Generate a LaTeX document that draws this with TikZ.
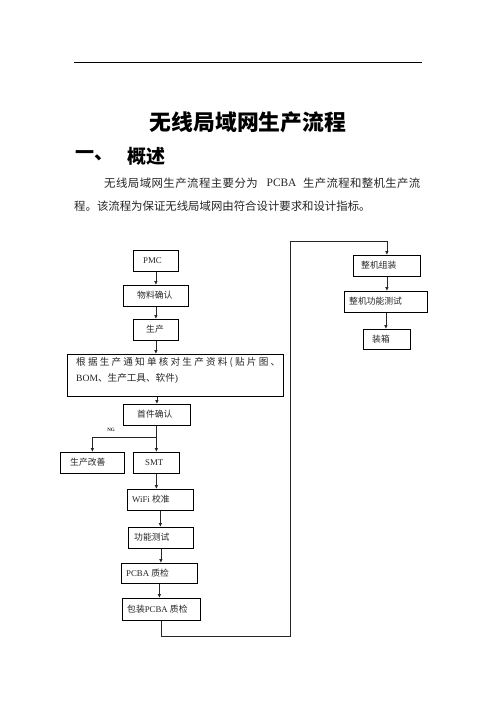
\documentclass[tikz,border=0pt]{standalone}
\usepackage{fontspec}
\setmainfont{Liberation Serif}
\newfontfamily\cjk{Noto Sans CJK SC}
\usetikzlibrary{arrows.meta}
\newcommand\zh[1]{{\cjk #1}}
\tikzset{
  box/.style={draw=black, line width=0.8pt, rectangle, inner sep=0pt},
  txt/.style={inner sep=0pt, font=\fontsize{8.8}{11}\selectfont, text=black!85},
  bigtxt/.style={inner sep=0pt, font=\fontsize{9.6}{11}\selectfont, text=black!85},
  arr/.style={draw=black!85, line width=0.8pt, -{Latex[length=4pt,width=3.6pt]}},
  para/.style={inner sep=0pt, font=\fontsize{11.4}{13}\selectfont, text=black!85}
}
\newcommand\bx[7]{%
  \node[box, anchor=north west, minimum width={(#4-#2)*1pt}, minimum height={(#5-#3)*1pt}] (#1) at (#2,#3) {};
  \node[txt, anchor=west] (#1-t) at (#6,{(#3+#5)/2}) {#7};}
\begin{document}
\begin{tikzpicture}[x=1pt,y=-1pt]
\useasboundingbox (0,0) rectangle (496,702);
\fill[white] (0,0) rectangle (496,702);
% header rule
\coordinate (r1) at (74,62);
\coordinate (r2) at (422,62);
\draw[line width=0.9pt] (r1) -- (r2);
% title
\node[inner sep=0pt, font=\fontsize{21.8}{24}\selectfont\bfseries] (title) at (248,122) {\zh{无线局域网生产流程}};
\node[inner sep=0pt, anchor=west, font=\fontsize{19}{22}\selectfont\bfseries] (h1a) at (75,156) {\zh{一、}};
\node[inner sep=0pt, anchor=west, font=\fontsize{19}{22}\selectfont\bfseries] (h1b) at (127,156) {\zh{概述}};
% paragraph
\node[para, anchor=west] (p1a) at (104,183) {\cjk\addfontfeature{LetterSpace=4}无线局域网生产流程主要分为};
\node[para, anchor=west] (p1b) at (266.5,183) {PCBA};
\node[para, anchor=west] (p1c) at (303,183) {\cjk\addfontfeature{LetterSpace=3}生产流程和整机生产流};
\node[para, anchor=west] (p2) at (74,206) {\zh{程。该流程为保证无线局域网由符合设计要求和设计指标。}};
% boxes
\bx{pmc}{133}{250}{178}{271}{143}{PMC}
\bx{wl}{123}{285}{188}{306}{137}{\zh{物料确认}}
\bx{sc}{133}{319}{178}{340}{146}{\zh{生产}}
\node[box, anchor=north west, minimum width=216pt, minimum height=42pt] (big) at (67,354) {};
\node[bigtxt, anchor=west] (big-t1) at (76,362.5) {\cjk\hbox to 204pt{根\hfill 据\hfill 生\hfill 产\hfill 通\hfill 知\hfill 单\hfill 核\hfill 对\hfill 生\hfill 产\hfill 资\hfill 料\hfill (\hfill 贴\hfill 片\hfill 图\hfill 、}};
\node[bigtxt, anchor=west] (big-t2) at (76,378.5) {BOM\zh{、生产工具、软件})};
\bx{sj}{123}{404}{190}{425}{137}{\zh{首件确认}}
\bx{gs}{60}{452}{124}{473}{70}{\zh{生产改善}}
\bx{smt}{133}{452}{179}{473}{145}{SMT}
\bx{wf}{127}{489}{193}{510}{132}{WiFi \zh{校准}}
\bx{gn}{128}{527}{193}{548}{134}{\zh{功能测试}}
\bx{pq}{121}{563}{197}{583}{126}{PCBA \zh{质检}}
\bx{bz}{122}{598}{200}{620}{127}{\zh{包装}PCBA \zh{质检}}
\bx{zz}{353}{255}{420}{276}{361}{\zh{整机组装}}
\bx{zg}{344}{291}{427}{312}{349}{\zh{整机功能测试}}
\bx{xb}{363}{329}{410}{349}{372}{\zh{装箱}}
% NG label
\node[inner sep=0pt, font=\fontsize{5}{6}\selectfont\bfseries, text=black!85] (ng) at (111,430) {NG};
% connectors
\draw[arr] (pmc.south) -- (wl.north);
\draw[arr] (wl.south) -- (sc.north);
\draw[arr] (sc.south) -- (sc.south |- big.north);
\draw[arr] (sj.north |- big.south) -- (sj.north);
\draw[arr] (sj.south -| smt.north) -- (smt.north);
\path (smt.north) ++(0,-15) coordinate (br);
\draw[arr] (br) -| (gs.north);
\draw[arr] (smt.south) -- (smt.south |- wf.north);
\draw[arr] (wf.south) -- (wf.south |- gn.north);
\draw[arr] (gn.south) -- (gn.south |- pq.north);
\draw[arr] (pq.south) -- (pq.south |- bz.north);
\coordinate (c1) at (290,636);
\coordinate (c2) at (290,241);
\draw[arr] (bz.south) |- (c1) -- (c2) -| (zz.north);
\draw[arr] (zz.south) -- (zz.south |- zg.north);
\draw[arr] (zg.south) -- (zg.south |- xb.north);
\end{tikzpicture}
\end{document}
